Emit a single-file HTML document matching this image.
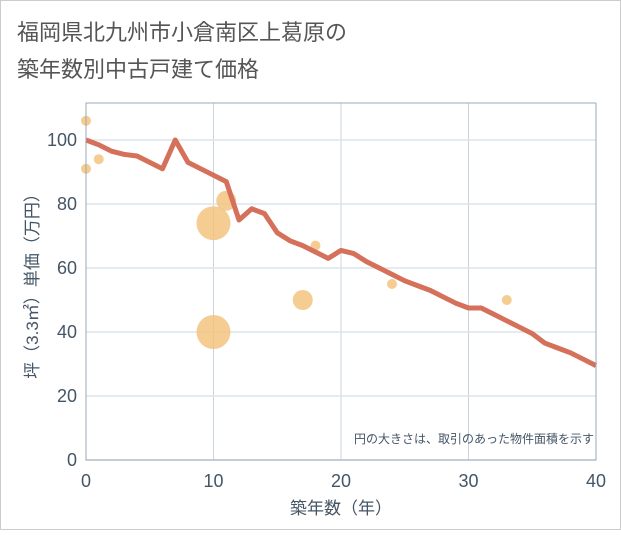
<!DOCTYPE html>
<html><head><meta charset="utf-8"><style>
body{margin:0;background:#fff;}
svg text{font-family:"Liberation Sans","Noto Sans CJK JP",sans-serif;}
</style></head><body>
<svg width="621" height="530" xmlns="http://www.w3.org/2000/svg">
<rect x="0.5" y="0.5" width="620" height="529" fill="#fff" stroke="#ccc"/>
<text x="17" y="40" font-size="22" fill="#555">福岡県北九州市小倉南区上葛原の</text>
<text x="17" y="77" font-size="22" fill="#555">築年数別中古戸建て価格</text>
<g id="grid"></g>
<g id="bubbles"></g>
<g id="line"></g>
<g id="axes"></g>
<text x="594" y="443" font-size="12" fill="#445566" text-anchor="end">円の大きさは、取引のあった物件面積を示す</text>
<text x="341" y="514" font-size="17" fill="#445566" text-anchor="middle">築年数（年）</text>
<text transform="translate(38,282) rotate(-90)" font-size="17" fill="#445566" text-anchor="middle">坪（3.3㎡）単価（万円）</text>
</svg>
<script>
const xTicks=[0,10,20,30,40];
const yTicks=[0,20,40,60,80,100];
const lineYears=[0,1,2,3,4,5,6,7,8,9,10,11,12,13,14,15,16,17,18,19,20,21,22,23,24,25,26,27,28,29,30,31,32,33,34,35,36,37,38,39,40];
const lineValues=[100,98.5,96.5,95.5,95,93,91,100,93,91,89,87,75,78.5,77,71,68.5,67,65,63,65.5,64.5,62,60,58,56,54.5,53,51,49,47.5,47.5,45.5,43.5,41.5,39.5,36.5,35,33.5,31.5,29.5];
const bubbleYears=[0,0,1,10,10,11,17,18,24,33];
const bubbleValues=[106,91,94,74,40,81,50,67,55,50];
const bubbleSizes=[5,5,5,17,17,10,10,5,5,5];
const L=86,R=596,T=103,B=460;
const sx=v=>L+(v-0)/40*(R-L);
const sy=v=>B-v*3.2;
const NS="http://www.w3.org/2000/svg";
function mk(tag,parent,attrs){const e=document.createElementNS(NS,tag);for(const k in attrs)e.setAttribute(k,attrs[k]);document.getElementById(parent).appendChild(e);return e;}
xTicks.forEach(t=>{
 const g=mk('line','grid',{x1:sx(t),x2:sx(t),y1:T,y2:B,stroke:'#c8d4e0','stroke-width':1});
 
 
 const tx=mk('text','axes',{x:sx(t),y:B+27,'font-size':18,fill:'#445566','text-anchor':'middle'});tx.textContent=t;
 
 
});
yTicks.forEach(t=>{
 const g=mk('line','grid',{x1:L,x2:R,y1:sy(t),y2:sy(t),stroke:'#dbe5ee','stroke-width':1.5});
 
 
 const tx=mk('text','axes',{x:L-9,y:sy(t)+6,'font-size':18,fill:'#445566','text-anchor':'end'});tx.textContent=t;
 
 
});
const ax=mk('path','axes',{d:`M${R},${T}H${L}V${B}H${R}V${T}`,fill:'none',stroke:'#99a8b8','stroke-width':1});


bubbleYears.forEach((y,i)=>{
 const c=mk('circle','bubbles',{cx:sx(y),cy:sy(bubbleValues[i]),r:bubbleSizes[i],fill:'#f3c078','fill-opacity':0.8});
 
 
});
const p=mk('polyline','line',{points:lineYears.map((y,i)=>sx(y)+','+sy(lineValues[i])).join(' '),fill:'none',stroke:'#d5705a','stroke-width':5,'stroke-linejoin':'round'});


</script>
</body></html>
